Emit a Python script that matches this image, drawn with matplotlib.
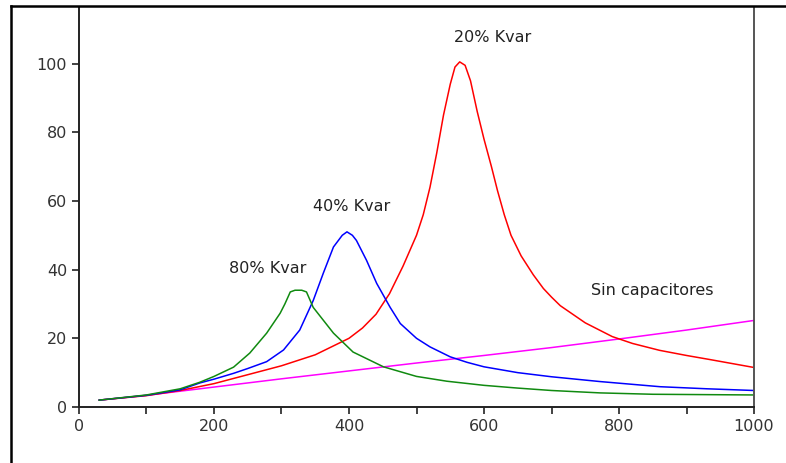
import matplotlib
matplotlib.use('Agg')
import matplotlib.pyplot as plt
from matplotlib.lines import Line2D

# Sin capacitores
sin_x = [30, 100, 200, 300, 400, 500, 600, 700, 800, 900, 1000]
sin_y = [2, 3.4, 5.8, 8.2, 10.5, 12.8, 15.0, 17.3, 19.8, 22.4, 25.2]

# 20% Kvar
k20_x = [30, 100, 150, 200, 250, 300, 350, 400, 420, 440, 460, 480, 500, 510, 520,
         530, 540, 550, 557, 564, 572, 580, 590, 600, 611, 620, 630, 640, 655, 673,
         688, 700, 713, 750, 790, 820, 860, 900, 935, 1000]
k20_y = [2, 3.3, 4.8, 6.8, 9.4, 12, 15.2, 20, 23, 27, 33, 41, 50, 56, 64,
         74, 85, 94, 99, 100.5, 99.5, 95, 86, 78, 70, 63, 56, 50, 44, 38.5,
         34.5, 32, 29.5, 24.5, 20.5, 18.5, 16.5, 15, 13.8, 11.5]

# 40% Kvar
k40_x = [30, 100, 150, 179, 200, 229, 250, 278, 303, 327, 347, 362, 377, 390, 397,
         405, 411, 426, 441, 461, 476, 500, 520, 550, 575, 600, 650, 700, 772, 861,
         930, 1000]
k40_y = [2, 3.4, 5, 7, 8.1, 9.8, 11.2, 13.2, 16.6, 22.4, 31, 39, 46.6, 50, 51,
         50, 48.5, 42.7, 36, 29, 24.3, 20, 17.5, 14.6, 13, 11.7, 10, 8.8, 7.4, 5.9,
         5.3, 4.8]

# 80% Kvar
k80_x = [30, 100, 150, 179, 200, 229, 253, 278, 298, 305, 313, 320, 330, 337, 347,
         377, 406, 451, 500, 545, 600, 650, 700, 772, 850, 1000]
k80_y = [2, 3.5, 5.3, 7.2, 8.9, 11.6, 15.7, 21.5, 27.3, 30, 33.5, 34, 34, 33.5, 29,
         21.5, 16, 11.7, 8.9, 7.5, 6.3, 5.5, 4.8, 4.1, 3.7, 3.5]

labels = ['20% Kvar', '40% Kvar', '80% Kvar', 'Sin capacitores']
label_pos = [(613, 107.5), (404, 58.4), (280, 40.4), (849, 34)]

fig = plt.figure(figsize=(7.86, 4.63), dpi=100)
ax = fig.add_axes([0.1005, 0.121, 0.8588, 0.864])

ax.plot(sin_x, sin_y, color='#ff00ff', lw=1.1)
ax.plot(k20_x, k20_y, color='#ff0000', lw=1.1)
ax.plot(k40_x, k40_y, color='#0000ff', lw=1.1)
ax.plot(k80_x, k80_y, color='#108a10', lw=1.1)

for txt, (tx, ty) in zip(labels, label_pos):
    ax.text(tx, ty, txt, ha='center', va='center', fontsize=11.5, color='#222222')

ax.set_xlim(0, 1000)
ax.set_ylim(0, 116.5)
ax.set_xticks(range(0, 1001, 200))
ax.set_xticks(range(100, 1000, 200), minor=True)
ax.set_yticks(range(0, 101, 20))
ax.tick_params(which='both', direction='out', length=5, width=1.2, color='#222222',
               labelsize=11.5, labelcolor='#333333', pad=3.5)
ax.spines['top'].set_visible(False)
ax.spines['left'].set_color('#222222')
ax.spines['bottom'].set_color('#222222')
ax.spines['right'].set_color('#555555')
for s in ['left', 'bottom', 'right']:
    ax.spines[s].set_linewidth(1.4)

# outer frame (only left and top visible in the crop)
fig.add_artist(Line2D([11 / 786, 11 / 786], [0, 1 - 6 / 463], transform=fig.transFigure,
                      color='black', lw=1.8))
fig.add_artist(Line2D([11 / 786, 1], [1 - 6 / 463, 1 - 6 / 463], transform=fig.transFigure,
                      color='black', lw=1.8))

fig.savefig('out.png', dpi=100)
